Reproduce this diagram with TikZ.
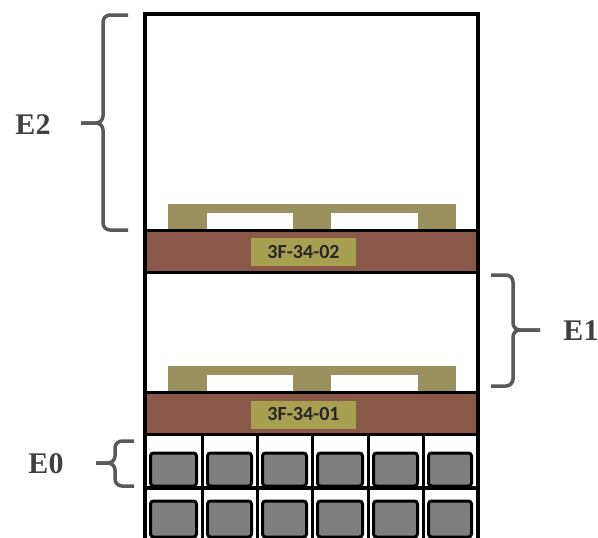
\documentclass[tikz,border=0pt]{standalone}
\usepackage{fontspec}
\newfontfamily\tagfont{Carlito}
\newfontfamily\levelfont{Liberation Serif}
\definecolor{beam}{HTML}{8A5848}
\definecolor{pallet}{HTML}{9B915F}
\definecolor{tagfill}{HTML}{A8A050}
\definecolor{crate}{HTML}{7F7F7F}
\definecolor{bracegray}{HTML}{595959}
\definecolor{labelgray}{HTML}{404040}
\tikzset{
  frameline/.style={draw=black, line width=4pt},
  beambox/.style={draw=black, fill=beam, line width=3pt},
  palletbody/.style={fill=pallet, draw=none},
  hole/.style={fill=white, draw=none},
  tagbox/.style={fill=tagfill, draw=none, minimum width=105pt, minimum height=28pt,
    inner sep=0pt, font=\tagfont\bfseries\fontsize{20}{20}\selectfont, text=black!85},
  cratebox/.style={draw=black, fill=crate, line width=3pt, rounded corners=3pt},
  bracepath/.style={draw=bracegray, line width=3.5pt, rounded corners=7pt},
  levellabel/.style={font=\levelfont\bfseries\fontsize{30}{30}\selectfont, text=labelgray}
}
\begin{document}
\begin{tikzpicture}[x=1pt,y=-1pt]
\useasboundingbox (0,0) rectangle (598,538);
\clip (0,0) rectangle (598,538);

% rack frame
\draw[frameline] (145,560) -- (145,14) -- (477.5,14) -- (477.5,560);

% upper pallet
\fill[palletbody] (168,204) rectangle (456,230);
\fill[hole] (207,213) rectangle (293,230);
\fill[hole] (331,213) rectangle (418,230);

% upper beam with location tag
\draw[beambox] (145,230) rectangle (477.5,272.5);
\node[tagbox] (tagB) at (303.5,252) {3F-34-02};

% lower pallet
\fill[palletbody] (168,366) rectangle (456,392);
\fill[hole] (207,375) rectangle (293,392);
\fill[hole] (331,375) rectangle (418,392);

% lower beam with location tag
\draw[beambox] (145,392) rectangle (477.5,434);
\node[tagbox] (tagA) at (303.5,414.5) {3F-34-01};

% ground level crate grid
\draw[frameline] (145,488) -- (477.5,488);
\foreach \x in {202,257,312,368,423}
  \draw[line width=3pt] (\x,434) -- (\x,545);
\foreach \l/\r in {147/200, 204/255, 259/310, 314/366, 370/421, 425/475} {
  \draw[cratebox] (\l+3.5,453) rectangle (\r-3.5,486);
  \draw[cratebox] (\l+3.5,501) rectangle (\r-3.5,537);
}

% level braces
\draw[bracepath] (128,15) -- (103,15) -- (103,123) -- (81,123);
\draw[bracepath] (128,230) -- (103,230) -- (103,123) -- (81,123);
\node[levellabel] (E2) at (33,125) {E2};

\draw[bracepath] (491,275) -- (513,275) -- (513,330) -- (540,330);
\draw[bracepath] (491,386) -- (513,386) -- (513,330) -- (540,330);
\node[levellabel] (E1) at (581,331) {E1};

\draw[bracepath] (134,441) -- (115,441) -- (115,463) -- (96,463);
\draw[bracepath] (134,486) -- (115,486) -- (115,463) -- (96,463);
\node[levellabel] (E0) at (46,464) {E0};
\end{tikzpicture}
\end{document}
